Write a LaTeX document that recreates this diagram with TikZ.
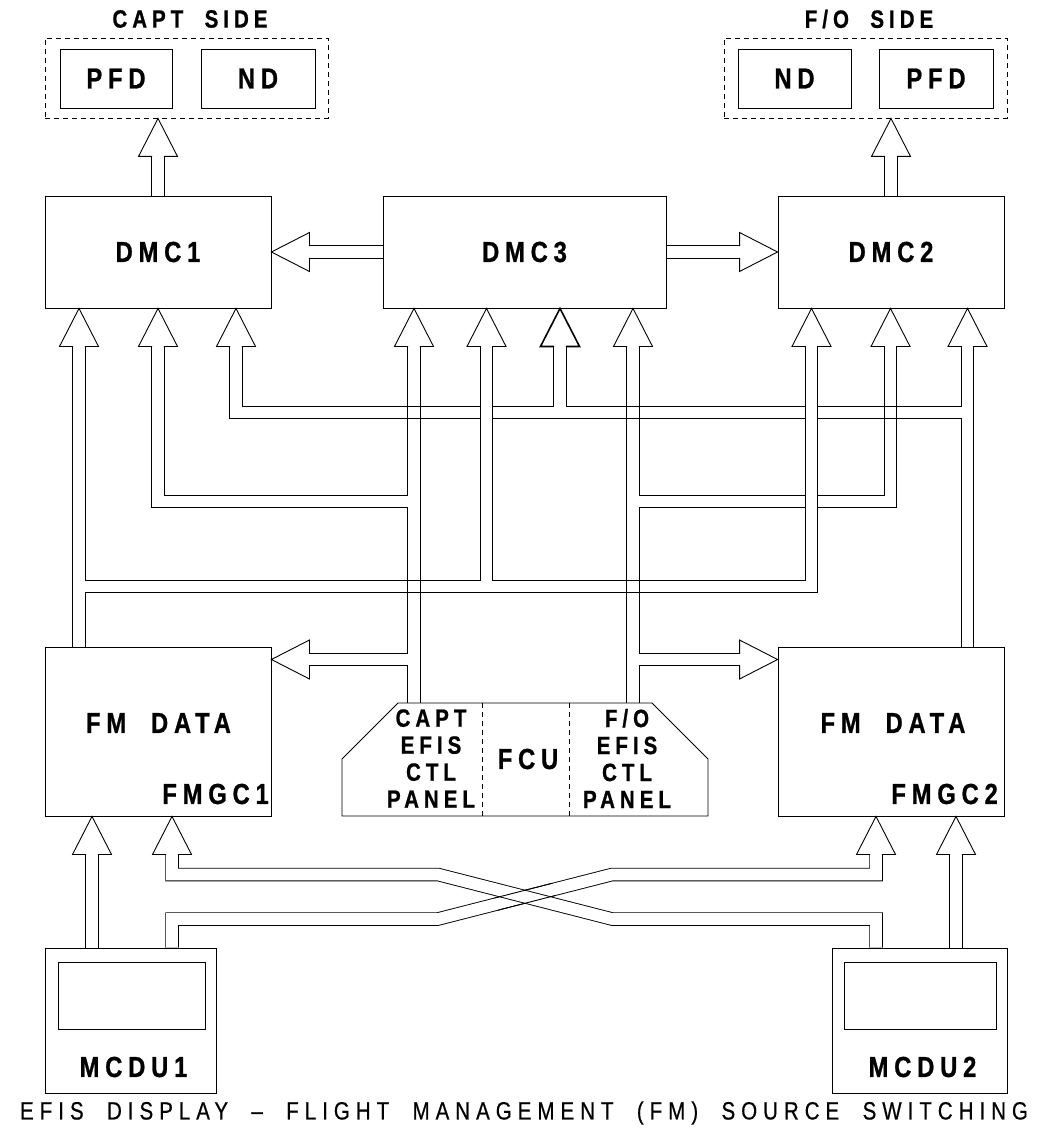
\documentclass[tikz,border=0pt]{standalone}
\usepackage{fontspec}
\setmainfont{Liberation Sans}
\newfontfamily\lblfont{Liberation Sans}[FakeStretch=0.82,LetterSpace=20,WordSpace=2,BoldFeatures={FakeBold=0.8}]
\newfontfamily\capfont{Liberation Sans}[FakeStretch=0.82,LetterSpace=24,WordSpace=2,FakeBold=0.5]
\usetikzlibrary{calc}

\pgfdeclarelayer{pipes}
\pgfsetlayers{pipes,main}

\tikzset{
  unit/.style={draw, line width=0.9pt, inner sep=0pt, minimum width=226pt, minimum height=112pt},
  screen/.style={draw, line width=0.9pt, inner sep=0pt, minimum height=59pt},
  side/.style={draw, dash pattern=on 5pt off 4pt, line width=0.9pt, minimum width=283pt, minimum height=80pt},
  big/.style={font=\lblfont\bfseries\fontsize{29}{31}\selectfont, inner sep=0pt},
  small/.style={font=\lblfont\bfseries\fontsize{25}{27}\selectfont, inner sep=0pt, align=center},
  pipe/.style={draw=black, line width=0.9pt, double=white, double distance=11.7pt},
  head/.pic={\draw[line width=0.9pt] (-5.9,38) -- (-19.5,38) -- (0,0) -- (19.5,38) -- (5.9,38);},
  boldhead/.pic={\draw[line width=1.6pt] (-5.8,38) -- (-19.5,38) -- (0,0) -- (19.5,38) -- (5.8,38);},
}

\begin{document}
\begin{tikzpicture}[x=1pt, y=-1pt]
\useasboundingbox (0,0) rectangle (1045,1131);

% displays
\node[side] (captside) at (186.5,78) {};
\node[side] (foside) at (865.5,78) {};
\node[small] (captlbl) at (190,19) {CAPT SIDE};
\node[small] (folbl) at (869,19) {F/O SIDE};
\node[screen, big, minimum width=112pt] (pfd1) at (116,78.5) {PFD};
\node[screen, big, minimum width=114pt] (nd1) at (258,78.5) {ND};
\node[screen, big, minimum width=113pt] (nd2) at (794.5,78.5) {ND};
\node[screen, big, minimum width=114pt] (pfd2) at (936,78.5) {PFD};

% display management computers
\node[unit, big] (dmc1) at (158,252) {DMC1};
\node[unit, big, minimum width=283pt] (dmc3) at (524.5,252) {DMC3};
\node[unit, big] (dmc2) at (891,252) {DMC2};

% flight management
\node[unit, minimum height=169pt] (fmgc1) at (158,731.5) {};
\node[unit, minimum height=169pt] (fmgc2) at (891,731.5) {};
\node[big] (fmdata1) at (158.5,723) {FM DATA};
\node[big] (fmdata2) at (893,723) {FM DATA};
\node[big, anchor=east] (fmgc1lbl) at (269,794) {FMGC1};
\node[big, anchor=east] (fmgc2lbl) at (998,794) {FMGC2};

% fcu
\coordinate (rt) at (0,703);
\draw[line width=0.9pt] (342,816) -- (342,759) -- (398,703) -- (652,703) -- (708,759) -- (708,816) -- cycle;
\draw[line width=0.9pt, dash pattern=on 5pt off 4pt] (482,703) -- (482,816) (569,703) -- (569,816);
\node[big] (fcu) at (528,759) {FCU};
\node[small] (captefis) at (431,758.5) {CAPT\\EFIS\\CTL\\PANEL};
\node[small] (foefis) at (627,758.5) {F/O\\EFIS\\CTL\\PANEL};

% mcdu
\node[draw, line width=0.9pt, minimum width=171pt, minimum height=145pt] (mcdu1) at (130.5,1020.5) {};
\node[draw, line width=0.9pt, minimum width=175pt, minimum height=145pt] (mcdu2) at (920,1020.5) {};
\node[draw, line width=0.9pt, minimum width=147pt, minimum height=67pt] (scr1) at (131.5,995.5) {};
\node[draw, line width=0.9pt, minimum width=152pt, minimum height=67pt] (scr2) at (920,995.5) {};
\node[big] (mcdu1lbl) at (133.5,1067) {MCDU1};
\node[big] (mcdu2lbl) at (922.5,1067) {MCDU2};

\node[font=\capfont\fontsize{25}{27}\selectfont, inner sep=0pt] (caption) at (524,1113)
  {EFIS DISPLAY – FLIGHT MANAGEMENT (FM) SOURCE SWITCHING};

% pipe columns and rows
\coordinate (c1) at (79,0);
\coordinate (c2) at (158,0);
\coordinate (c3) at (236,0);
\coordinate (c4) at (414,0);
\coordinate (c5) at (486.5,0);
\coordinate (c6) at (560,0);
\coordinate (c7) at (633,0);
\coordinate (c8) at (811.5,0);
\coordinate (c9) at (890.5,0);
\coordinate (c10) at (967.5,0);
\coordinate (ra) at (0,412.5);
\coordinate (rb) at (0,501.5);
\coordinate (rc) at (0,586.5);
\coordinate (rf) at (0,659.5);
\coordinate (rh) at (0,346);
\coordinate (q1) at (92,0);
\coordinate (q2) at (172,0);
\coordinate (q3) at (876,0);
\coordinate (q4) at (956,0);
\coordinate (rm) at (0,854);
\coordinate (m1) at (438,874.5);
\coordinate (m2) at (612,874.5);
\coordinate (m3) at (438,919);
\coordinate (m4) at (612,919);

\begin{pgfonlayer}{pipes}
  % fmgc2 feeds
  \draw[line width=14.8pt] (c6 |- ra) -- (c6 |- rh);
  \draw[pipe] (fmgc2.north -| c10) -- (c10 |- rh) (c10 |- ra) -| (c3 |- rh);
  \draw[white, line width=11.6pt] (c6 |- ra) -- (c6 |- rh);
  % efis control panels
  \draw[pipe] (c4 |- rt) -- (c4 |- rh) (c4 |- rf) -- ($(fmgc1.east |- rf)+(38,0)$) (c4 |- rb) -| (c2 |- rh);
  \draw[pipe] (c7 |- rt) -- (c7 |- rh) (c7 |- rf) -- ($(fmgc2.west |- rf)+(-38,0)$) (c7 |- rb) -| (c9 |- rh);
  % fmgc1 feeds
  \draw[pipe] (fmgc1.north -| c1) -- (c1 |- rh) (c1 |- rc) -| (c8 |- rh) (c5 |- rc) -- (c5 |- rh);
  % dmc outputs
  \draw[pipe] (dmc1.north) -- ($(dmc1.north |- captside.south)+(0,38)$);
  \draw[pipe] (dmc2.north) -- ($(dmc2.north |- foside.south)+(0,38)$);
  \draw[pipe] (dmc3.west) -- ($(dmc1.east)+(38,0)$);
  \draw[pipe] (dmc3.east) -- ($(dmc2.west)+(-38,0)$);
  % mcdu links
  \draw[pipe] (mcdu1.north -| q1) -- (q1 |- rm);
  \draw[pipe] (mcdu2.north -| q4) -- (q4 |- rm);
  \draw[pipe] (mcdu1.north -| q2) -- (q2 |- m3) -- (m3) -- (m2) -- (q3 |- m2) -- (q3 |- rm);
  \draw[pipe] (mcdu2.north -| q3) -- (q3 |- m4) -- (m4) -- (m1) -- (q2 |- m1) -- (q2 |- rm);
\end{pgfonlayer}

% crossings
\foreach \c/\r in {c4/ra, c7/ra, c9/ra, c4/rc, c7/rc}
  \draw[line width=0.9pt] (\c |- \r) ++(-6.3,-6.3) rectangle ++(12.6,12.6);
\draw[line width=0.9pt, shorten <=60pt, shorten >=60pt] ($(m3)!6.3pt!90:(m2)$) -- ($(m2)!6.3pt!-90:(m3)$);
\draw[line width=0.9pt, shorten <=60pt, shorten >=60pt] ($(m3)!6.3pt!-90:(m2)$) -- ($(m2)!6.3pt!90:(m3)$);

% arrow heads
\foreach \c in {c1,c2,c3} \pic at (\c |- dmc1.south) {head};
\foreach \c in {c4,c5,c7} \pic at (\c |- dmc3.south) {head};
\pic at (c6 |- dmc3.south) {boldhead};
\foreach \c in {c8,c9,c10} \pic at (\c |- dmc2.south) {head};
\pic at (dmc1.north |- captside.south) {head};
\pic at (dmc2.north |- foside.south) {head};
\pic[rotate=90] at (dmc1.east) {head};
\pic[rotate=-90] at (dmc2.west) {head};
\pic[rotate=90] at (fmgc1.east |- rf) {head};
\pic[rotate=-90] at (fmgc2.west |- rf) {head};
\foreach \c in {q1,q2} \pic at (\c |- fmgc1.south) {head};
\foreach \c in {q3,q4} \pic at (\c |- fmgc2.south) {head};
\end{tikzpicture}
\end{document}
